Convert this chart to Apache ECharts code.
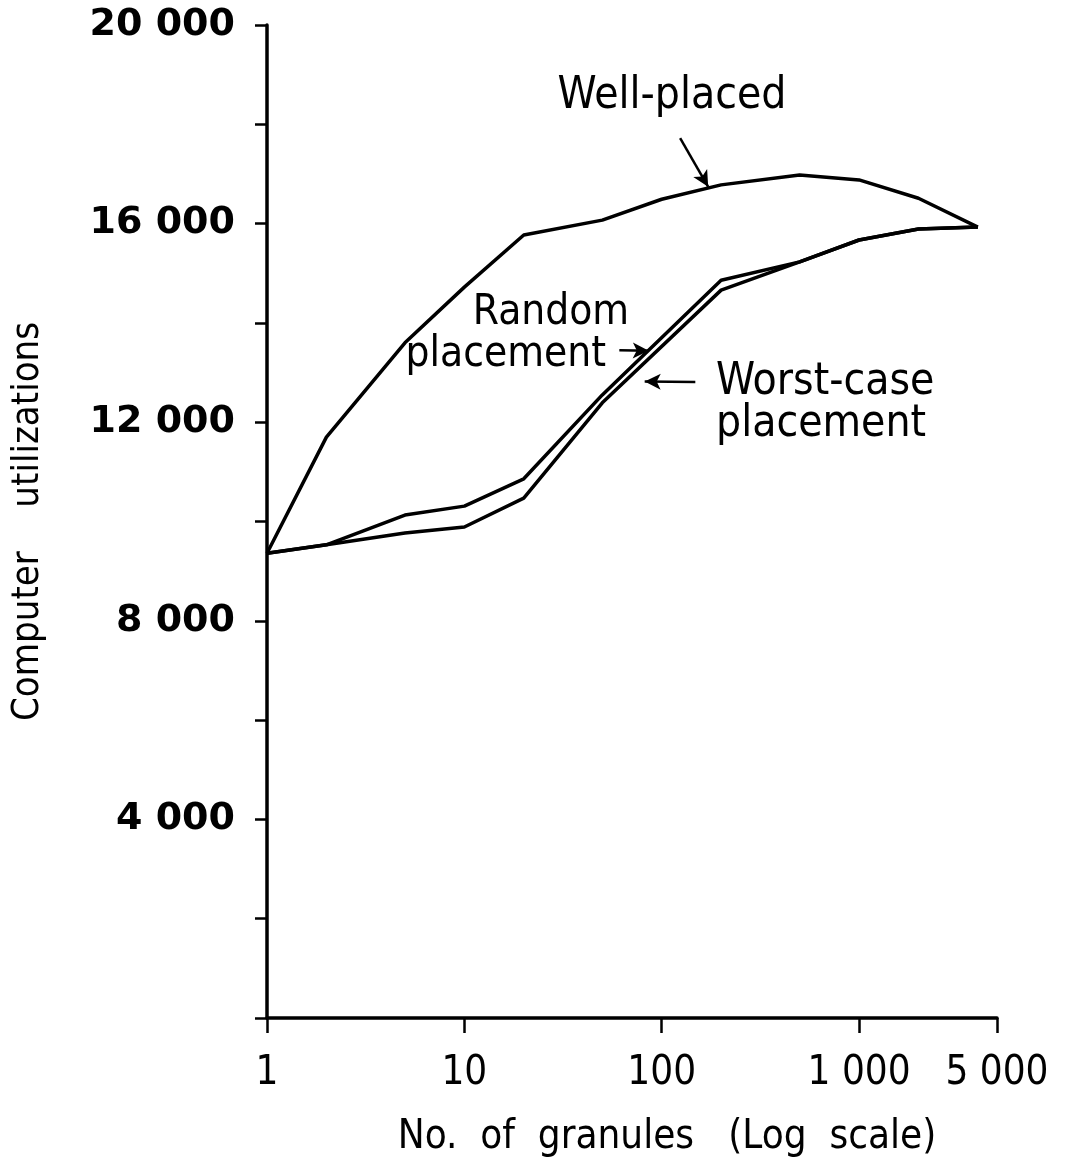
<!DOCTYPE html>
<html>
<head>
  <meta charset="utf-8">
  <title>granules</title>
  <style>
  html, body { margin: 0; padding: 0; background: #fff; }
  #chart { width: 1076px; height: 1164px; }
  </style>
</head>
<body>
  <div id="chart"></div>
  <script src="https://cdn.jsdelivr.net/npm/echarts@6/dist/echarts.min.js"></script>
  <script>
  const FONT = '"DejaVu Sans Condensed", "DejaVu Sans", sans-serif';

  // no. of granules (log axis)
  const wellX = [1, 2, 5, 10, 20, 50, 100, 200, 500, 1000, 2000, 4000];
  const wellPlaced = [9360, 11700, 13600, 14720, 15770, 16070, 16490, 16780, 16980, 16880, 16510, 15930];

  const placeX = [1, 2, 5, 10, 20, 50, 200, 500, 1000, 2000, 4000];
  const randomPlaced = [9360, 9530, 10130, 10310, 10860, 12550, 14860, 15230, 15670, 15890, 15930];
  const worstPlaced = [9360, 9530, 9770, 9890, 10470, 12390, 14660, 15230, 15670, 15890, 15930];

  const yTicks = [4000, 8000, 12000, 16000, 20000];

  // annotation arrows [from, to] in data units
  const wellArrow = [[124, 17720], [172, 16740]];
  const randomArrow = [[61, 13450], [86, 13440]];
  const worstArrow = [[148, 12810], [82, 12820]];

  function spaced(v) {
    v = Math.round(v);
    if (v >= 1000) {
      const s = String(v);
      return s.slice(0, s.length - 3) + ' ' + s.slice(-3);
    }
    return String(v);
  }

  function pairs(xs, ys) {
    return xs.map((x, i) => [x, ys[i]]);
  }

  function arrow(a) {
    return {
      silent: true,
      symbol: ['none', 'arrow'],
      symbolSize: [12, 16],
      label: { show: false },
      lineStyle: { color: '#000', width: 2.5, type: 'solid' },
      data: [[{ coord: a[0] }, { coord: a[1] }]]
    };
  }

  const lineStyle = { color: '#000', width: 3.5 };

  const option = {
    backgroundColor: '#fff',
    animation: false,
    grid: { left: 267, right: 79, top: 25, bottom: 146 },
    xAxis: {
      type: 'log',
      logBase: 10,
      min: 1,
      max: 5000,
      name: 'No.  of  granules   (Log  scale)',
      nameLocation: 'middle',
      nameGap: 100,
      nameTextStyle: { fontFamily: FONT, fontSize: 40, color: '#000', padding: [0, 0, 0, 70] },
      axisLine: { lineStyle: { color: '#000', width: 3.5 } },
      axisTick: { length: 15, lineStyle: { color: '#000', width: 2.5 } },
      minorTick: { show: false },
      splitLine: { show: false },
      axisLabel: {
        showMinLabel: true,
        showMaxLabel: true,
        margin: 36,
        fontFamily: FONT,
        fontSize: 40,
        color: '#000',
        formatter: v => spaced(v)
      }
    },
    yAxis: {
      type: 'value',
      min: 0,
      max: 20000,
      interval: 2000,
      name: 'Computer    utilizations',
      nameLocation: 'middle',
      nameGap: 220,
      nameTextStyle: { fontFamily: FONT, fontSize: 38, color: '#000' },
      axisLine: { show: true, lineStyle: { color: '#000', width: 3.5 } },
      axisTick: { length: 12, lineStyle: { color: '#000', width: 2.5 } },
      splitLine: { show: false },
      axisLabel: {
        margin: 32,
        fontFamily: '"DejaVu Sans", sans-serif',
        fontWeight: 'bold',
        fontSize: 38,
        color: '#000',
        formatter: v => yTicks.indexOf(v) >= 0 ? spaced(v) : ''
      }
    },
    graphic: [
      { type: 'text', style: { text: 'Well-placed', x: 672, y: 97, align: 'center', verticalAlign: 'middle', fontFamily: FONT, fontSize: 44, fill: '#000' } },
      { type: 'text', style: { text: 'Random', x: 551, y: 313, align: 'center', verticalAlign: 'middle', fontFamily: FONT, fontSize: 42, fill: '#000' } },
      { type: 'text', style: { text: 'placement', x: 606, y: 355, align: 'right', verticalAlign: 'middle', fontFamily: FONT, fontSize: 42, fill: '#000' } },
      { type: 'text', style: { text: 'Worst-case', x: 716, y: 383, align: 'left', verticalAlign: 'middle', fontFamily: FONT, fontSize: 44, fill: '#000' } },
      { type: 'text', style: { text: 'placement', x: 716, y: 425, align: 'left', verticalAlign: 'middle', fontFamily: FONT, fontSize: 44, fill: '#000' } }
    ],
    series: [{
      name: 'Well-placed',
      type: 'line',
      showSymbol: false,
      lineStyle: lineStyle,
      data: pairs(wellX, wellPlaced),
      markLine: arrow(wellArrow)
    }, {
      name: 'Random placement',
      type: 'line',
      showSymbol: false,
      lineStyle: lineStyle,
      data: pairs(placeX, randomPlaced),
      markLine: arrow(randomArrow)
    }, {
      name: 'Worst-case placement',
      type: 'line',
      showSymbol: false,
      lineStyle: lineStyle,
      data: pairs(placeX, worstPlaced),
      markLine: arrow(worstArrow)
    }]
  };

  const myChart = echarts.init(document.getElementById('chart'));
  myChart.setOption(option);
  </script>
</body>
</html>
